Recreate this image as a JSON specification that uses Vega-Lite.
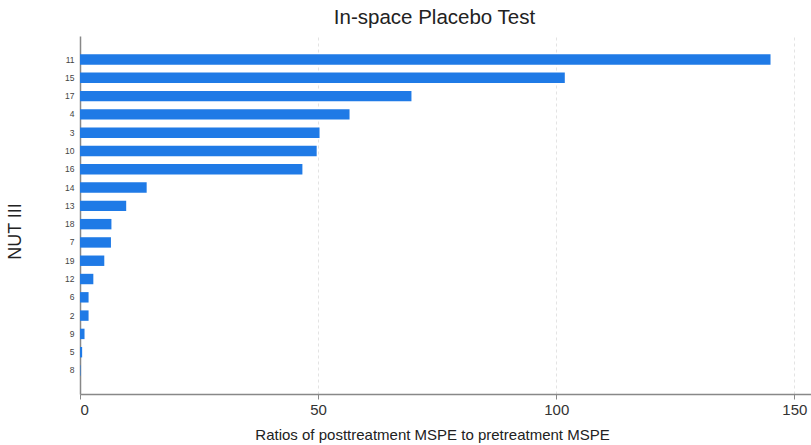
{
  "$schema": "https://vega.github.io/schema/vega-lite/v6.json",
  "width": 731,
  "height": 358,
  "autosize": {"type": "none"},
  "padding": {"left": 80, "top": 36, "right": 0, "bottom": 51},
  "background": "white",
  "title": {
    "text": "In-space Placebo Test",
    "font": "Liberation Sans",
    "fontSize": 20.5,
    "fontWeight": "normal",
    "color": "#222222",
    "anchor": "middle",
    "dx": -11,
    "offset": 8
  },
  "data": {
    "values": [
      {"nut": "11", "ratio": 145.0},
      {"nut": "15", "ratio": 101.8},
      {"nut": "17", "ratio": 69.6},
      {"nut": "4", "ratio": 56.6},
      {"nut": "3", "ratio": 50.3},
      {"nut": "10", "ratio": 49.7},
      {"nut": "16", "ratio": 46.7},
      {"nut": "14", "ratio": 14.0},
      {"nut": "13", "ratio": 9.7},
      {"nut": "18", "ratio": 6.6},
      {"nut": "7", "ratio": 6.5},
      {"nut": "19", "ratio": 5.1},
      {"nut": "12", "ratio": 2.8},
      {"nut": "6", "ratio": 1.8},
      {"nut": "2", "ratio": 1.8},
      {"nut": "9", "ratio": 0.95},
      {"nut": "5", "ratio": 0.45},
      {"nut": "8", "ratio": 0.1}
    ]
  },
  "mark": {"type": "bar", "color": "#1f7ae6"},
  "encoding": {
    "y": {
      "field": "nut",
      "type": "nominal",
      "sort": {"field": "ratio", "order": "descending"},
      "scale": {"paddingInner": 0.43, "paddingOuter": 1.05},
      "axis": {
        "title": "NUT III",
        "titleFont": "Liberation Sans",
        "titleFontSize": 18,
        "titleFontWeight": "normal",
        "titleColor": "#222222",
        "titlePadding": 40,
        "titleY": 195,
        "labelFont": "Liberation Sans",
        "labelFontSize": 8.5,
        "labelColor": "#444444",
        "labelPadding": 6,
        "ticks": false,
        "domainColor": "#888888",
        "domainWidth": 1.5,
        "grid": false
      }
    },
    "x": {
      "field": "ratio",
      "type": "quantitative",
      "scale": {"domain": [0, 153.5], "nice": false},
      "axis": {
        "title": "Ratios of posttreatment MSPE to pretreatment MSPE",
        "titleFont": "Liberation Sans",
        "titleFontSize": 15,
        "titleFontWeight": "normal",
        "titleColor": "#222222",
        "titlePadding": 10,
        "titleX": 352,
        "values": [0, 50, 100, 150],
        "labelFont": "Liberation Sans",
        "labelFontSize": 15,
        "labelColor": "#333333",
        "labelPadding": 3,
        "tickSize": 5,
        "tickColor": "#888888",
        "domainColor": "#888888",
        "domainWidth": 1.5,
        "grid": true,
        "gridColor": "#e3e3e3",
        "gridDash": [3, 3]
      }
    }
  },
  "config": {"view": {"stroke": null}}
}
